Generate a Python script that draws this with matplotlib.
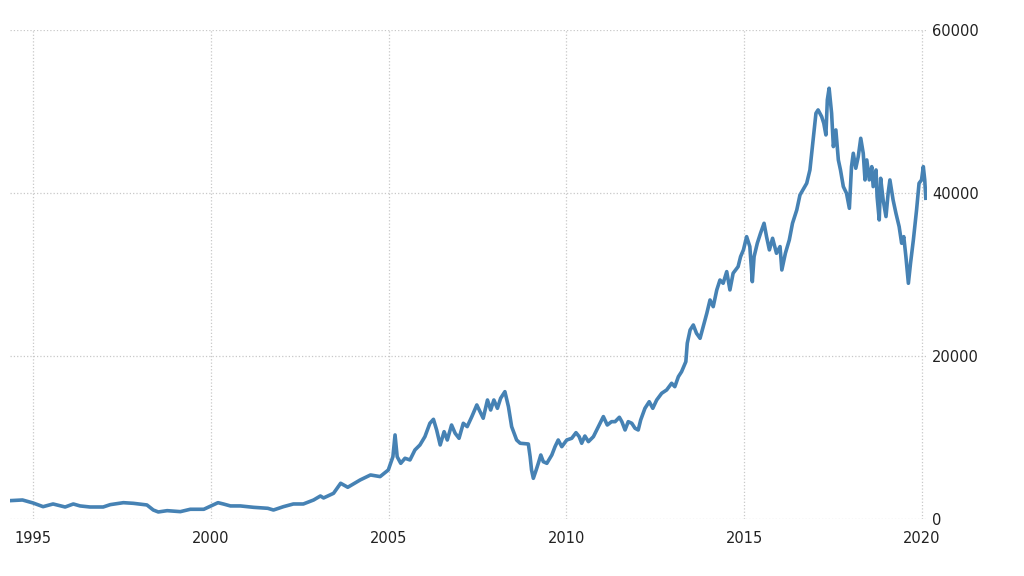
"""
Long-run price history, 1994-2020
"""
import matplotlib
matplotlib.use('Agg')
import matplotlib.pyplot as plt

# values (decimal year, price)
years = [
    1994.35, 1994.7, 1995.0, 1995.28, 1995.56, 1995.9, 1996.13, 1996.32, 1996.6, 1996.97,
    1997.17, 1997.54, 1997.82, 1998.2, 1998.38, 1998.52, 1998.77, 1999.14, 1999.42, 1999.8,
    2000.0, 2000.2, 2000.35, 2000.55, 2000.83, 2001.2, 2001.6, 2001.76, 2002.04, 2002.32,
    2002.6, 2002.89, 2003.08, 2003.17, 2003.45, 2003.65, 2003.85, 2004.2, 2004.49, 2004.76,
    2004.99, 2005.12, 2005.18, 2005.24, 2005.34, 2005.46, 2005.6, 2005.74, 2005.88, 2006.02,
    2006.16, 2006.26, 2006.35, 2006.45, 2006.56, 2006.65, 2006.77, 2006.87, 2006.98, 2007.1,
    2007.21, 2007.34, 2007.48, 2007.57, 2007.66, 2007.78, 2007.87, 2007.96, 2008.06, 2008.15,
    2008.27, 2008.37, 2008.46, 2008.6, 2008.7, 2008.93, 2008.98, 2009.02, 2009.07, 2009.15,
    2009.21, 2009.28, 2009.35, 2009.45, 2009.59, 2009.68, 2009.77, 2009.87, 2010.01, 2010.15,
    2010.27, 2010.36, 2010.43, 2010.52, 2010.62, 2010.76, 2010.9, 2011.04, 2011.15, 2011.27,
    2011.37, 2011.49, 2011.56, 2011.65, 2011.74, 2011.84, 2011.93, 2012.02, 2012.09, 2012.21,
    2012.33, 2012.43, 2012.54, 2012.68, 2012.82, 2012.96, 2013.05, 2013.15, 2013.24, 2013.36,
    2013.4, 2013.48, 2013.57, 2013.66, 2013.76, 2013.85, 2013.95,
    2014.04, 2014.13, 2014.23, 2014.32, 2014.41, 2014.51, 2014.6, 2014.69, 2014.83, 2014.9,
    2014.98, 2015.07, 2015.16, 2015.23, 2015.28, 2015.37, 2015.46, 2015.56, 2015.63, 2015.71,
    2015.8, 2015.91, 2016.01, 2016.06, 2016.16, 2016.27, 2016.36, 2016.48, 2016.57, 2016.76,
    2016.85, 2016.94, 2017.02, 2017.08, 2017.18, 2017.24, 2017.3, 2017.34, 2017.39, 2017.46,
    2017.51, 2017.58, 2017.65, 2017.71, 2017.79, 2017.88, 2017.96, 2018.02, 2018.07, 2018.14,
    2018.21, 2018.28, 2018.35, 2018.4, 2018.45, 2018.52, 2018.59, 2018.63, 2018.71, 2018.74,
    2018.8, 2018.84, 2018.91, 2018.99, 2019.05, 2019.1, 2019.19, 2019.27, 2019.36, 2019.43,
    2019.49, 2019.55, 2019.62, 2019.68, 2019.76, 2019.85, 2019.92, 2019.99, 2020.04, 2020.08,
    2020.11,
]
prices = [
    2250, 2330, 1960, 1510, 1840, 1470, 1840, 1600, 1470, 1470,
    1760, 2000, 1920, 1720, 1100, 860, 1020, 900, 1190, 1190,
    1600, 2000, 1840, 1600, 1600, 1430, 1310, 1100, 1510, 1840,
    1840, 2330, 2820, 2580, 3150, 4380, 3890, 4790, 5400, 5200,
    6010, 7640, 10310, 7640, 6830, 7450, 7240, 8470, 9080, 10100,
    11740, 12230, 10920, 9080, 10710, 9690, 11530, 10520, 9900, 11740,
    11330, 12560, 13990, 13170, 12360, 14600, 13370, 14600, 13580, 14810,
    15620, 13780, 11330, 9690, 9290, 9200, 7640, 6010, 4990, 6010,
    6830, 7850, 7030, 6830, 7850, 8870, 9690, 8870, 9690, 9900,
    10590, 10100, 9290, 10180, 9490, 10100, 11330, 12560, 11530, 11940,
    11940, 12480, 11940, 10920, 11940, 11740, 11130, 10920, 12150, 13580,
    14390, 13580, 14600, 15420, 15830, 16650, 16230, 17460, 18070, 19300,
    21560, 23190, 23800, 22780, 22170, 23600, 25240,
    26870, 26050, 28100, 29320, 28920, 30350, 28100, 30150, 30960, 32190,
    33010, 34640, 33420, 29120, 32190, 33830, 35050, 36280, 34640, 33010,
    34440, 32600, 33420, 30550, 32600, 34230, 36280, 37910, 39750, 41190,
    42820, 46500, 49780, 50190, 49370, 48550, 47120, 51420, 52850, 49780,
    45690, 47730, 44050, 42820, 40780, 39960, 38120, 43230, 44870, 43030,
    44460, 46710, 44870, 41600, 44050, 41600, 43230, 40780, 42820, 39550,
    36690, 41800, 39140, 37100, 39960, 41600, 39140, 37510, 35870, 33830,
    34640, 32190, 28920, 31370, 34230, 37910, 41190, 41600, 43230, 41600,
    39350,
]

x_ticks = [1995, 2000, 2005, 2010, 2015, 2020]
y_ticks = [0, 20000, 40000, 60000]

fig = plt.figure(figsize=(10.24, 5.76), dpi=100)
ax = fig.add_axes([0.0098, 0.099, 0.895, 0.849])

ax.plot(years, prices, color='#4682b4', linewidth=2.6, solid_joinstyle='round')

ax.set_xlim(1994.35, 2020.13)
ax.set_ylim(0, 60000)
ax.set_xticks(x_ticks)
ax.set_yticks(y_ticks)
ax.yaxis.tick_right()
ax.tick_params(axis='both', length=0, labelsize=10.5, colors='#222222')
ax.tick_params(axis='x', pad=9)
ax.tick_params(axis='y', pad=4)

ax.grid(True, color='#c8c8c8', linestyle=':', linewidth=0.9)
for s in ax.spines.values():
    s.set_visible(False)

plt.savefig('out.png', dpi=100)
